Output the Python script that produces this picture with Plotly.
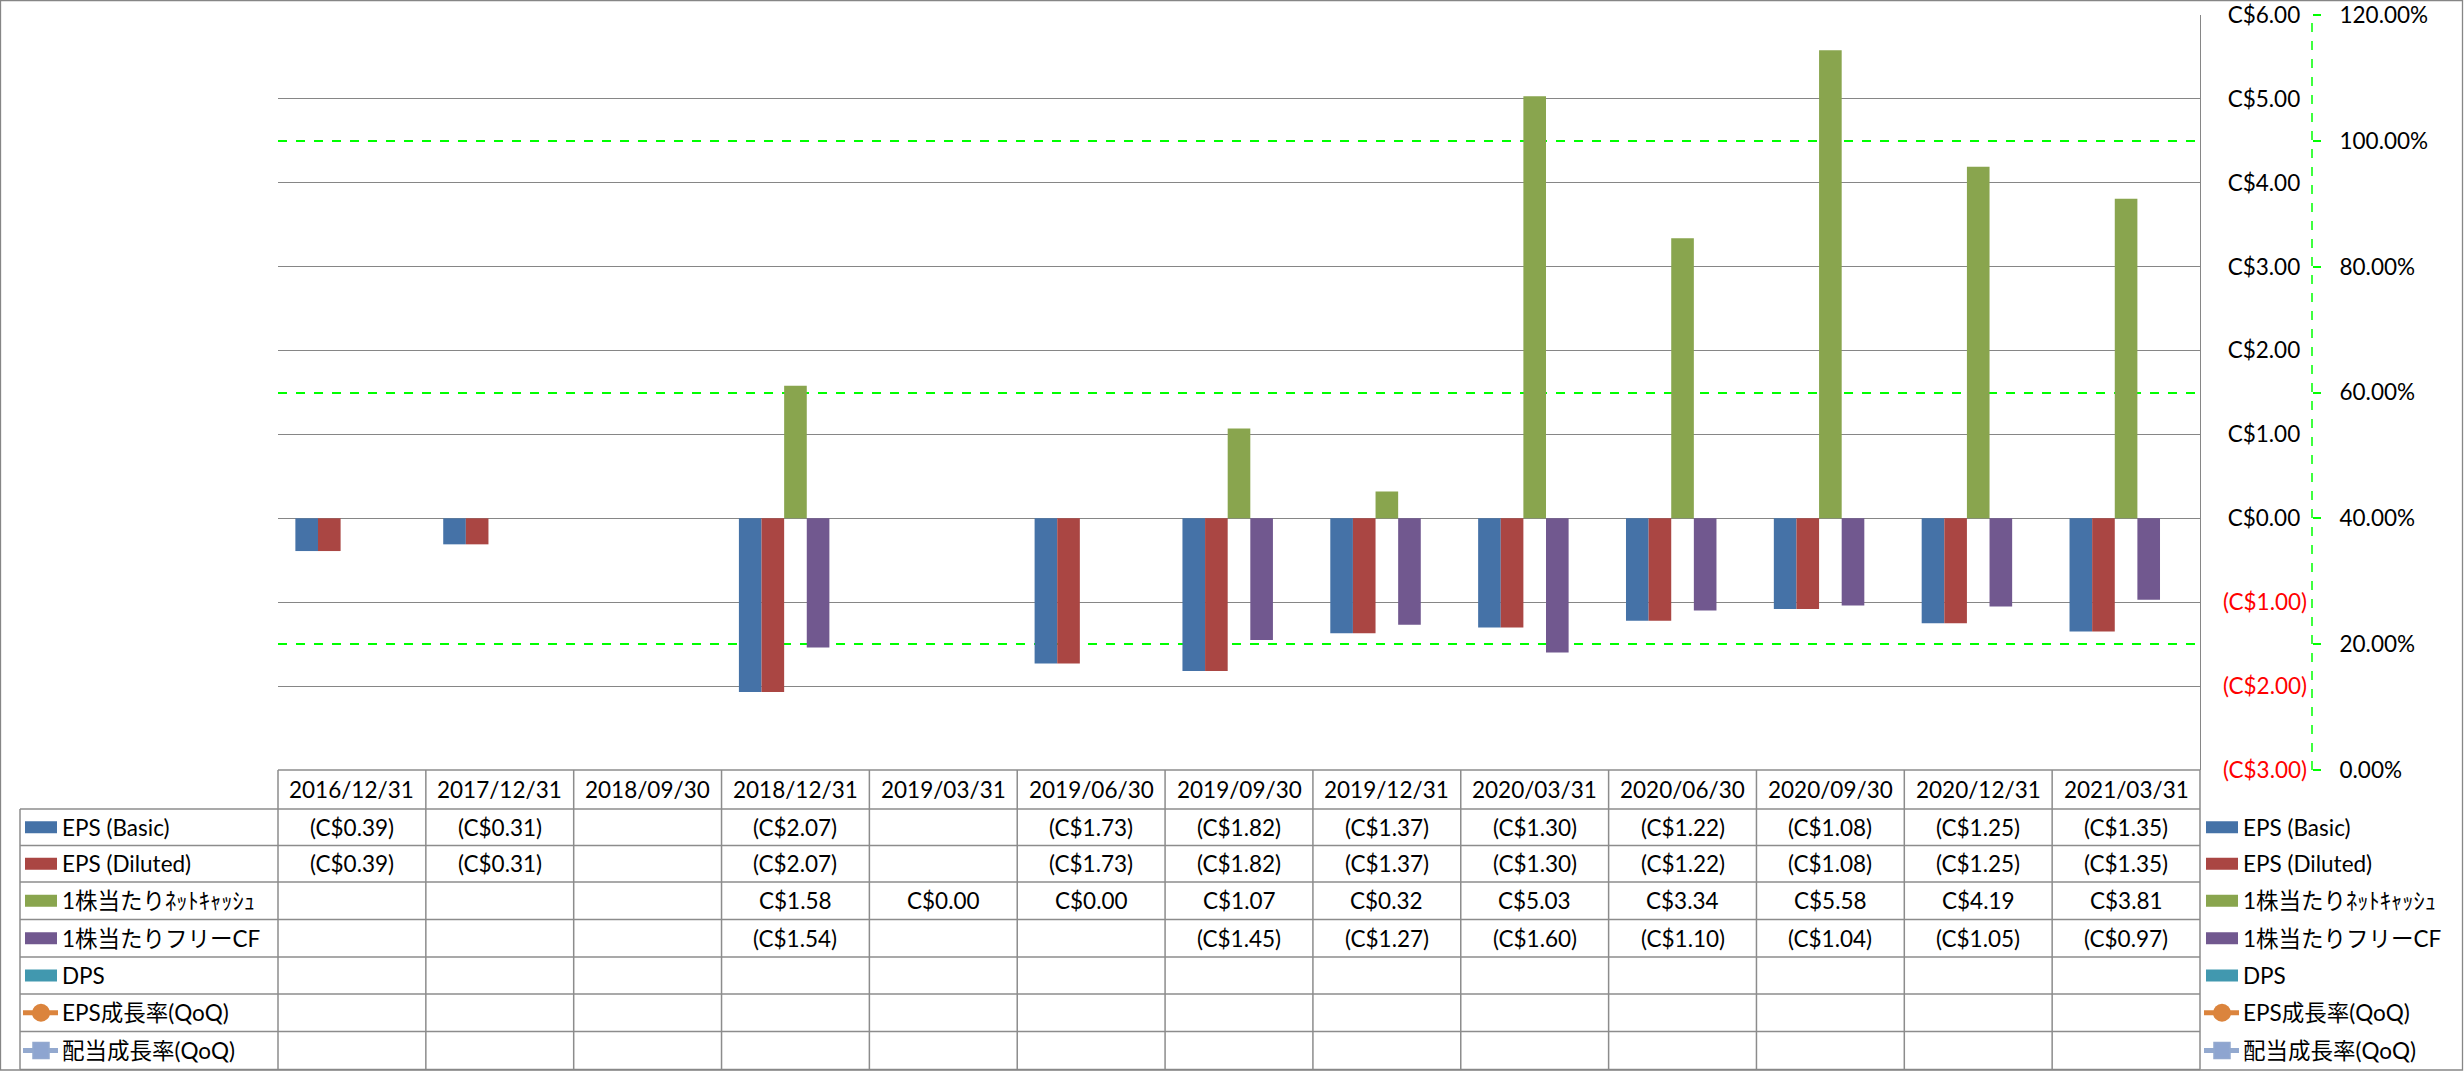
import plotly.graph_objects as go

# ---------------- data ----------------
categories = ["2016/12/31", "2017/12/31", "2018/09/30", "2018/12/31", "2019/03/31",
              "2019/06/30", "2019/09/30", "2019/12/31", "2020/03/31", "2020/06/30",
              "2020/09/30", "2020/12/31", "2021/03/31"]
eps_basic = [-0.39, -0.31, None, -2.07, None, -1.73, -1.82, -1.37, -1.30, -1.22, -1.08, -1.25, -1.35]
eps_diluted = [-0.39, -0.31, None, -2.07, None, -1.73, -1.82, -1.37, -1.30, -1.22, -1.08, -1.25, -1.35]
net_cash_ps = [None, None, None, 1.58, 0.00, 0.00, 1.07, 0.32, 5.03, 3.34, 5.58, 4.19, 3.81]
fcf_ps = [None, None, None, -1.54, None, None, -1.45, -1.27, -1.60, -1.10, -1.04, -1.05, -0.97]
dps = [None] * 13
eps_growth = [None] * 13
div_growth = [None] * 13

series_names = ["EPS (Basic)", "EPS (Diluted)", "1株当たりﾈｯﾄｷｬｯｼｭ", "1株当たりフリーCF",
                "DPS", "EPS成長率(QoQ)", "配当成長率(QoQ)"]
usd_ticks = [-3, -2, -1, 0, 1, 2, 3, 4, 5, 6]
pct_ticks = [0, 20, 40, 60, 80, 100, 120]

# ---------------- styling ----------------
colors = ["#4572A7", "#AA4643", "#89A54E", "#71588F", "#4198AF", "#DB843D", "#93A9CF"]
FONT = "Lato, 'Noto Sans CJK JP', sans-serif"
FS = 22.5
GRID = "#868686"

W, H = 2464, 1071
L, T = 278, 15
PLOT_R, PLOT_B = 2200, 770
MR = 100
PW = W - L - MR
PH = PLOT_B - T


def px(X):
    return (X - L) / PW


def py(Y):
    return (PLOT_B - Y) / PH


def money(v):
    if v is None:
        return ""
    return f"(C${abs(v):.2f})" if v < 0 else f"C${v:.2f}"


fig = go.Figure()
bar_series = [eps_basic, eps_diluted, net_cash_ps, fcf_ps, dps]
for i, vals in enumerate(bar_series):
    fig.add_trace(go.Bar(x=categories, y=vals, name=series_names[i],
                         marker=dict(color=colors[i], line=dict(width=0)),
                         yaxis="y", showlegend=False))
for j, vals in enumerate([eps_growth, div_growth]):
    fig.add_trace(go.Scatter(x=categories, y=vals, name=series_names[5 + j],
                             mode="lines+markers", yaxis="y2", showlegend=False,
                             line=dict(color=colors[5 + j], width=5),
                             marker=dict(color=colors[5 + j], size=16,
                                         symbol="circle" if j == 0 else "square")))
# empty helper traces so that the label-only / grid-only axes get drawn
for ax in ["y3", "y4"]:
    fig.add_trace(go.Scatter(x=categories, y=[None] * len(categories), yaxis=ax,
                             mode="lines", showlegend=False, hoverinfo="skip"))

shapes = []
annotations = []

# ---------------- data table ----------------
row_edges = [770, 809, 845.5, 882, 919.5, 957, 994, 1031.5, 1069.5]
ncat = len(categories)
cw = (PLOT_R - L) / ncat
LINE = dict(color="#8C8C8C", width=1.5)

for k, ye in enumerate(row_edges):
    x0 = L if k == 0 else 20
    shapes.append(dict(type="line", xref="paper", yref="paper", x0=px(x0), x1=px(PLOT_R),
                       y0=py(ye), y1=py(ye), line=LINE, layer="above"))
shapes.append(dict(type="line", xref="paper", yref="paper", x0=px(20), x1=px(20),
                   y0=py(row_edges[1]), y1=py(row_edges[-1]), line=LINE))
for c in range(ncat + 1):
    xv = L + c * cw
    shapes.append(dict(type="line", xref="paper", yref="paper", x0=px(xv), x1=px(xv),
                       y0=py(row_edges[0]), y1=py(row_edges[-1]), line=LINE))

# header
for c, cat in enumerate(categories):
    annotations.append(dict(x=cat, xref="x", y=py((row_edges[0] + row_edges[1]) / 2), yref="paper",
                            text=cat, showarrow=False, xanchor="center", yanchor="middle",
                            font=dict(family=FONT, size=FS, color="black")))

table_rows = [eps_basic, eps_diluted, net_cash_ps, fcf_ps, dps, eps_growth, div_growth]
for r, vals in enumerate(table_rows):
    yc = (row_edges[r + 1] + row_edges[r + 2]) / 2
    for c, v in enumerate(vals):
        if v is None:
            continue
        annotations.append(dict(x=categories[c], xref="x", y=py(yc), yref="paper",
                                text=money(v), showarrow=False, xanchor="center", yanchor="middle",
                                font=dict(family=FONT, size=FS, color="black")))


def legend_entry(r, kx, tx):
    yc = (row_edges[r + 1] + row_edges[r + 2]) / 2
    col = colors[r]
    if r < 5:
        shapes.append(dict(type="rect", xref="paper", yref="paper", x0=px(kx), x1=px(kx + 32),
                           y0=py(yc + 6), y1=py(yc - 6), fillcolor=col, line=dict(width=0)))
    else:
        shapes.append(dict(type="line", xref="paper", yref="paper", x0=px(kx - 2), x1=px(kx + 33),
                           y0=py(yc), y1=py(yc), line=dict(color=col, width=5)))
        if r == 5:
            shapes.append(dict(type="circle", xref="paper", yref="paper", xsizemode="pixel",
                               ysizemode="pixel", xanchor=px(kx + 16), yanchor=py(yc),
                               x0=-9, x1=9, y0=-9, y1=9, fillcolor=col, line=dict(width=0)))
        else:
            shapes.append(dict(type="rect", xref="paper", yref="paper", xsizemode="pixel",
                               ysizemode="pixel", xanchor=px(kx + 16), yanchor=py(yc),
                               x0=-8, x1=8, y0=-8, y1=8, fillcolor="#8EA5D0",
                               line=dict(color=col, width=1.5)))
    annotations.append(dict(x=px(tx), xref="paper", y=py(yc), yref="paper",
                            text=series_names[r], showarrow=False, xanchor="left", yanchor="middle",
                            font=dict(family=FONT, size=FS, color="black")))


for r in range(7):
    legend_entry(r, 25, 60)
    legend_entry(r, 2206, 2241)

# secondary axis dashed line
Y2X = 2312
shapes.append(dict(type="line", xref="paper", yref="paper", x0=px(Y2X), x1=px(Y2X),
                   y0=0, y1=1, line=dict(color="#00FF00", width=1.5, dash="dash")))

# outer border
shapes.append(dict(type="rect", xref="paper", yref="paper", x0=px(0.5), x1=px(2462.5),
                   y0=py(1070), y1=py(0.5), line=dict(color="#868686", width=1.3),
                   fillcolor="rgba(0,0,0,0)"))

usd_text = [money(v) if v >= 0 else "" for v in usd_ticks]
neg_vals = [v for v in usd_ticks if v < 0]
neg_text = [money(v) for v in neg_vals]

fig.update_layout(
    width=W, height=H,
    margin=dict(l=L, r=MR, t=T, b=H - PLOT_B, pad=0, autoexpand=False),
    paper_bgcolor="white", plot_bgcolor="white",
    barmode="group", bargap=0.235, bargroupgap=0,
    font=dict(family=FONT, size=FS, color="black"),
    showlegend=False,
    xaxis=dict(type="category", domain=[0, px(PLOT_R)], range=[-0.5, ncat - 0.5],
               showgrid=False, showline=False, automargin=False,
               zeroline=False, ticks="", showticklabels=False, fixedrange=True),
    yaxis=dict(side="right", anchor="x", range=[-3, 6], tickvals=usd_ticks, ticktext=usd_text,
               showgrid=True, gridcolor=GRID, gridwidth=1.3, zeroline=True, zerolinecolor=GRID,
               zerolinewidth=1.3, showline=True, linecolor=GRID, linewidth=1.3, ticks="",
               automargin=False,
               ticklabelstandoff=22, tickfont=dict(family=FONT, size=FS, color="black")),
    yaxis3=dict(overlaying="y", side="right", anchor="x", range=[-3, 6], tickvals=neg_vals,
                ticktext=neg_text, showgrid=False, zeroline=False, showline=False, ticks="",
                automargin=False,
                ticklabelstandoff=22, tickfont=dict(family=FONT, size=FS, color="#FF0000")),
    yaxis2=dict(overlaying="y", side="right", anchor="free", position=px(Y2X), range=[0, 120],
                tickvals=pct_ticks, ticktext=[f"{v:.2f}%" for v in pct_ticks],
                showgrid=False, zeroline=False, showline=False, ticks="outside", ticklen=8,
                tickcolor="#00FF00", tickwidth=1.5, ticklabelstandoff=14, automargin=False,
                tickfont=dict(family=FONT, size=FS, color="black")),
    yaxis4=dict(overlaying="y", side="right", anchor="x", range=[0, 120], tickvals=[20, 60, 100],
                showticklabels=False, showgrid=True, gridcolor="#00FF00", gridwidth=1.5,
                griddash="dash", zeroline=False, showline=False, ticks="", automargin=False),
    shapes=shapes,
    annotations=annotations,
)

fig.write_html("out.html")
